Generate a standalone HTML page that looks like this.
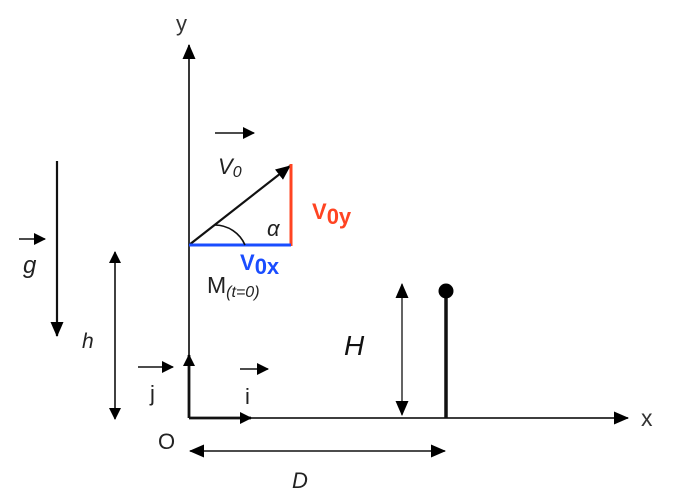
<!DOCTYPE html>
<html><head><meta charset="utf-8"><style>
html,body{margin:0;padding:0;background:#fff;width:691px;height:501px;overflow:hidden}
svg{display:block}
text{font-family:"Liberation Sans",sans-serif}
</style></head><body>
<svg width="691" height="501" viewBox="0 0 691 501" xmlns="http://www.w3.org/2000/svg">
<defs>
<marker id="a" markerWidth="12" markerHeight="12" refX="11" refY="6" orient="auto-start-reverse" markerUnits="userSpaceOnUse"><path d="M0,0 L12,6 L0,12 z" fill="#000"/></marker>
<marker id="b" markerWidth="15" markerHeight="13" refX="14" refY="6.5" orient="auto-start-reverse" markerUnits="userSpaceOnUse"><path d="M0,0 L15,6.5 L0,13 z" fill="#000"/></marker>
</defs>
<line x1="189" y1="418" x2="189" y2="45" stroke="#222" stroke-width="1.8" marker-end="url(#b)"/>
<line x1="189" y1="418" x2="628" y2="418" stroke="#222" stroke-width="1.8" marker-end="url(#b)"/>
<text x="176" y="31" font-size="22" fill="#333">y</text>
<text x="641" y="426" font-size="23" fill="#333">x</text>
<text x="158" y="449" font-size="22" fill="#222">O</text>
<line x1="57" y1="161" x2="57" y2="336" stroke="#111" stroke-width="2.2" marker-end="url(#b)"/>
<line x1="19" y1="239" x2="45" y2="239" stroke="#111" stroke-width="1.6" marker-end="url(#a)"/>
<text x="23" y="273" font-size="24" font-style="italic" fill="#222">g</text>
<line x1="115" y1="252" x2="115" y2="419" stroke="#111" stroke-width="1.6" marker-start="url(#a)" marker-end="url(#a)"/>
<text x="82" y="348" font-size="21" font-style="italic" fill="#222">h</text>
<line x1="189" y1="418" x2="189" y2="355" stroke="#111" stroke-width="2.8" marker-end="url(#a)"/>
<line x1="138" y1="367" x2="173" y2="367" stroke="#111" stroke-width="1.6" marker-end="url(#a)"/>
<text x="150" y="401" font-size="22" fill="#222">j</text>
<line x1="189" y1="418" x2="251" y2="418" stroke="#111" stroke-width="2.8" marker-end="url(#a)"/>
<line x1="240" y1="369" x2="268" y2="369" stroke="#111" stroke-width="1.6" marker-end="url(#a)"/>
<text x="245" y="404" font-size="22" fill="#222">i</text>
<line x1="190" y1="451" x2="445" y2="451" stroke="#111" stroke-width="1.6" marker-start="url(#b)" marker-end="url(#b)"/>
<text x="292" y="488" font-size="22" font-style="italic" fill="#222">D</text>
<line x1="402" y1="284" x2="402" y2="415" stroke="#111" stroke-width="1.3" marker-start="url(#b)" marker-end="url(#b)"/>
<text x="344" y="355" font-size="28" font-style="italic" fill="#111">H</text>
<line x1="446" y1="292" x2="446" y2="418" stroke="#111" stroke-width="3.5"/>
<circle cx="446" cy="291" r="7.5" fill="#000"/>
<line x1="215" y1="133" x2="254" y2="133" stroke="#111" stroke-width="1.6" marker-end="url(#a)"/>
<text x="218" y="174" font-size="22" font-style="italic" fill="#222">V<tspan font-size="16" dy="3">0</tspan></text>
<line x1="189" y1="245" x2="290" y2="166" stroke="#111" stroke-width="2.2" marker-end="url(#b)"/>
<line x1="291" y1="164" x2="291" y2="246" stroke="#f42" stroke-width="3"/>
<line x1="189" y1="245" x2="291" y2="245" stroke="#1a4dff" stroke-width="3"/>
<path d="M 215,225 A 33,33 0 0 1 245,245" fill="none" stroke="#111" stroke-width="1.6"/>
<text x="267" y="236" font-size="22" font-style="italic" fill="#222">α</text>
<text x="312" y="219" font-size="22" font-weight="bold" fill="#f42">V<tspan dy="5">0y</tspan></text>
<text x="207" y="293" font-size="23" fill="#222">M<tspan font-size="16" font-style="italic" dy="4">(t=0)</tspan></text>
<text x="240" y="270" font-size="22" font-weight="bold" fill="#1a4dff">V<tspan dy="4">0x</tspan></text>
</svg>
</body></html>
